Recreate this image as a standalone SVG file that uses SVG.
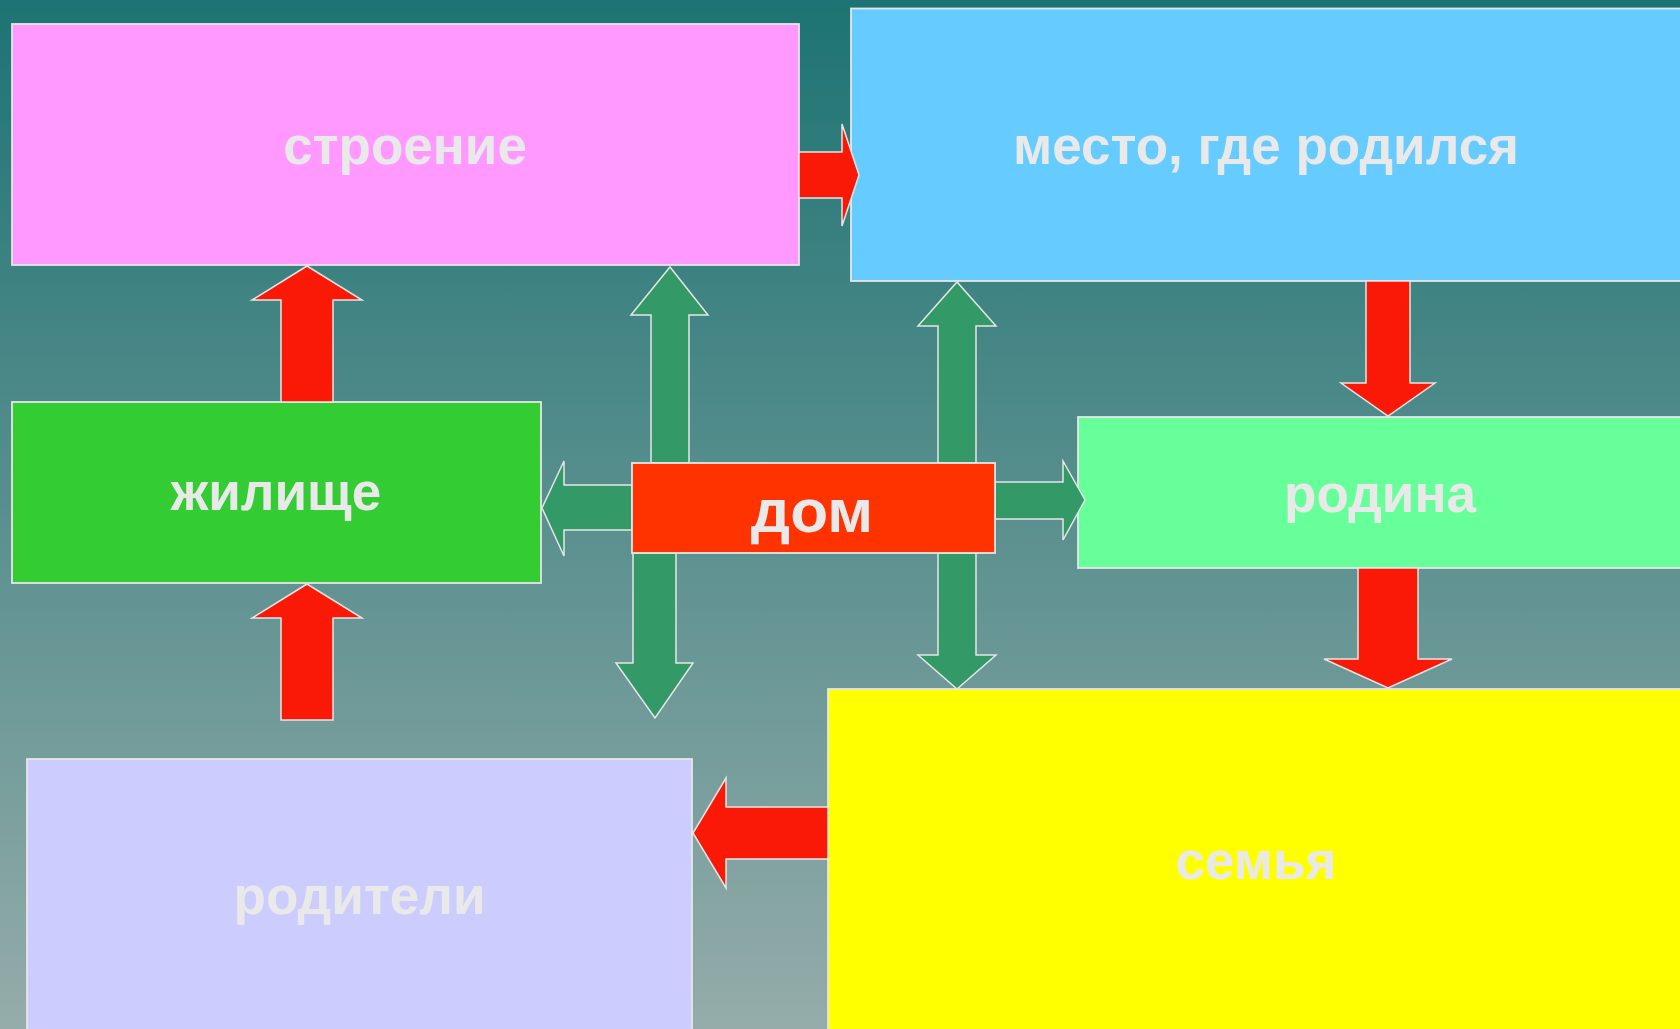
<svg xmlns="http://www.w3.org/2000/svg" width="1680" height="1029" viewBox="0 0 1680 1029">
  <defs>
    <linearGradient id="bg" x1="0" y1="0" x2="0" y2="1">
      <stop offset="0" stop-color="#1D7373"/>
      <stop offset="1" stop-color="#95ACAA"/>
    </linearGradient>
  </defs>
  <style>
    .box { stroke: #E6E6E6; stroke-width: 1.8; }
    .lbl { font-family: "Liberation Sans", Arial, sans-serif; font-weight: bold; font-size: 53px; fill: #E9E9E9; text-anchor: middle; }
    .red { fill: #FA1806; stroke: #E6E6E6; stroke-width: 1.5; stroke-linejoin: miter; }
    .grn { fill: #339966; stroke: #E6E6E6; stroke-width: 1.5; stroke-linejoin: miter; }
  </style>
  <rect x="0" y="0" width="1680" height="1029" fill="url(#bg)"/>

  <g id="stroenie">
    <rect class="box" x="12" y="24" width="787" height="241" fill="#FF99FF"/>
    <text class="lbl" x="405" y="164">строение</text>
  </g>
  <g id="mesto">
    <rect class="box" x="851" y="8.5" width="850" height="272.5" fill="#66CCFF"/>
    <text class="lbl" x="1266" y="164">место, где родился</text>
  </g>
  <g id="zhilishche">
    <rect class="box" x="12" y="402" width="529" height="181" fill="#33CC33"/>
    <text class="lbl" x="276" y="510">жилище</text>
  </g>
  <g id="rodina">
    <rect class="box" x="1078" y="417" width="620" height="151" fill="#66FF99"/>
    <text class="lbl" x="1380" y="512">родина</text>
  </g>
  <g id="semya">
    <rect class="box" x="828" y="689" width="870" height="400" fill="#FFFF00"/>
    <text class="lbl" x="1256" y="879">семья</text>
  </g>
  <g id="roditeli">
    <rect class="box" x="27" y="759" width="665" height="300" fill="#CCCCFF"/>
    <text class="lbl" x="359.5" y="914">родители</text>
  </g>

  <g id="connectors">
    <polygon class="red" points="799,152 842,152 842,124 859,175 842,226 842,198 799,198"/>
    <polygon class="red" points="281,402 281,300 252,300 307,266 362,300 333,300 333,402"/>
    <polygon class="red" points="281,720 281,618 252,618 307,584 362,618 333,618 333,720"/>
    <polygon class="red" points="1366,281 1410,281 1410,383 1435,383 1388,416 1341,383 1366,383"/>
    <polygon class="red" points="1358,568 1418,568 1418,659 1452,659 1388,688 1324,659 1358,659"/>
    <polygon class="red" points="828,807 726,807 726,778 693,833 726,888 726,859 828,859"/>

    <polygon class="grn" points="651,463 651,315 631,315 670,267 708,315 689,315 689,463"/>
    <polygon class="grn" points="938,463 938,326 918,326 957,282 996,326 976,326 976,463"/>
    <polygon class="grn" points="938,553 938,655 918,655 957,689 996,655 976,655 976,553"/>
    <polygon class="grn" points="633,553 633,663 616,663 655,718 693,663 676,663 676,553"/>
    <polygon class="grn" points="995,482 1063,482 1063,461 1085,500 1063,540 1063,519 995,519"/>
    <polygon class="grn" points="632,485 564,485 564,461 542,508 564,556 564,530 632,530"/>
  </g>

  <g id="dom">
    <rect class="box" x="632" y="463" width="363" height="90" fill="#FF3300"/>
    <text class="lbl" x="812" y="532" style="font-size:62px">дом</text>
  </g>
</svg>
